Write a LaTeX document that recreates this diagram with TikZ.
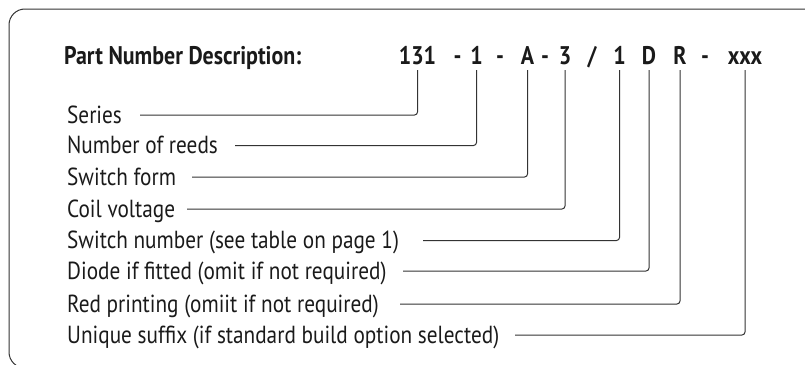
\documentclass[tikz,border=0pt]{standalone}
\usepackage{fontspec}
\setmainfont{PT Sans}[FakeStretch=0.86]
\definecolor{ink}{HTML}{1A1A1A}
\definecolor{rule}{HTML}{333333}
\begin{document}
\begin{tikzpicture}[x=1pt,y=-1pt,
  lbl/.style={anchor=base west,inner sep=0pt,font=\fontsize{24.7}{28}\selectfont,text=ink},
  pn/.style={anchor=base,inner sep=0pt,font=\fontsize{25.5}{30}\selectfont\bfseries,text=ink},
  conn/.style={draw=rule,line width=1pt,rounded corners=3pt},
  frame/.style={draw=rule,line width=1pt,rounded corners=16pt}]
\path[use as bounding box,clip] (0,0) rectangle (805,364);
\draw[frame] (830,9) -- (9,9) -- (9,368) -- (830,368);
% title
\node[pn,anchor=base west] (title) at (64,64) {Part Number Description:};
% part number characters
\node[pn] (p1) at (417.5,64) {131};
\node[pn] (d1) at (457.5,64) {-};
\node[pn] (p2) at (476.5,64) {1};
\node[pn] (d2) at (500,64) {-};
\node[pn] (p3) at (527.5,64) {A};
\node[pn] (d3) at (545,64) {-};
\node[pn] (p4) at (565,64) {3};
\node[pn] (sl) at (592,64) {/};
\node[pn] (p5) at (619.5,64) {1};
\node[pn] (p6) at (649,64) {D};
\node[pn] (p7) at (680,64) {R};
\node[pn] (d4) at (705,64) {-};
\node[pn] (p8) at (745,64) {xxx};
% labels
\node[lbl] (l1) at (67,123) {Series};
\node[lbl] (l2) at (67,153.5) {Number of reeds};
\node[lbl] (l3) at (67,185) {Switch form};
\node[lbl] (l4) at (67,217) {Coil voltage};
\node[lbl] (l5) at (67,248.5) {Switch number (see table on page 1)};
\node[lbl] (l6) at (67,279) {Diode if fitted (omit if not required)};
\node[lbl] (l7) at (67,312) {Red printing (omiit if not required)};
\node[lbl] (l8) at (67,343) {Unique suffix (if standard build option selected)};
% line start points
\coordinate (s1) at (140,115);
\coordinate (s2) at (235,145.5);
\coordinate (s3) at (192,177);
\coordinate (s4) at (187,209);
\coordinate (s5) at (423,240.5);
\coordinate (s6) at (403,271);
\coordinate (s7) at (400,304);
\coordinate (s8) at (515,335);
% connectors
\draw[conn] ([yshift=-6pt]p1.base) |- (s1);
\draw[conn] ([yshift=-6pt]p2.base) |- (s2);
\draw[conn] ([yshift=-6pt]p3.base) |- (s3);
\draw[conn] ([yshift=-6pt]p4.base) |- (s4);
\draw[conn] ([yshift=-6pt]p5.base) |- (s5);
\draw[conn] ([yshift=-6pt]p6.base) |- (s6);
\draw[conn] ([yshift=-6pt]p7.base) |- (s7);
\draw[conn] ([yshift=-6pt]p8.base) |- (s8);
\end{tikzpicture}
\end{document}
